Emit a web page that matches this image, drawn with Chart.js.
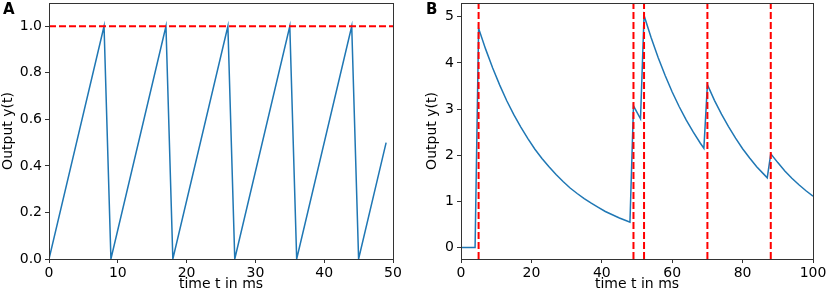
<!DOCTYPE html>
<html>
<head>
<meta charset="utf-8">
<script src="https://cdn.jsdelivr.net/npm/chart.js@4/dist/chart.umd.min.js"></script>
<style>
  html, body { margin: 0; padding: 0; background: #fff; }
  #wrap { position: relative; width: 829px; height: 296px; }
  .panel { position: absolute; top: 0; height: 296px; }
  #boxA { left: 0; width: 424px; }
  #boxB { left: 424px; width: 405px; }
  .tag { position: absolute; top: 0px; font: bold 15px "DejaVu Sans", sans-serif; color: #000; }
</style>
</head>
<body>
<div id="wrap">
  <div class="panel" id="boxA"><canvas id="chartA" width="424" height="296"></canvas></div>
  <div class="panel" id="boxB"><canvas id="chartB" width="405" height="296"></canvas></div>
  <div class="tag" style="left:3px">A</div>
  <div class="tag" style="left:426px">B</div>
</div>
<script>
// ================== Panel A data ==================
const timeA = [0, 8, 9, 17, 18, 26, 27, 35, 36, 44, 45, 49];
const outputA = [0, 1, 0, 1, 0, 1, 0, 1, 0, 1, 0, 0.5];
const thresholdA = 1.0;
const xTicksA = [0, 10, 20, 30, 40, 50];
const yTicksA = [0, 0.2, 0.4, 0.6, 0.8, 1.0];

// ================== Panel B data ==================
const timeB = [0, 4, 5, 7, 9, 11, 13, 15, 17, 19, 21, 23, 25, 27, 29, 31, 33, 35, 37, 39, 41, 43, 45, 47, 48,
  49, 50, 51, 52, 54, 56, 58, 60, 62, 64, 66, 68, 69,
  70, 72, 74, 76, 78, 80, 82, 84, 86, 87,
  88, 90, 92, 94, 96, 98, 100];
const outputB = [0, 0, 4.75, 4.30, 3.89, 3.52, 3.18, 2.88, 2.61, 2.36, 2.13, 1.93, 1.75, 1.58, 1.43, 1.29, 1.17, 1.06, 0.96, 0.87, 0.78, 0.71, 0.64, 0.58, 0.55,
  3.07, 2.93, 2.79, 5.03, 4.55, 4.12, 3.73, 3.37, 3.05, 2.76, 2.50, 2.26, 2.15,
  3.53, 3.19, 2.89, 2.62, 2.37, 2.14, 1.94, 1.75, 1.59, 1.51,
  2.03, 1.84, 1.66, 1.50, 1.36, 1.23, 1.11];
const spikesB = [5, 49, 52, 70, 88];
const xTicksB = [0, 20, 40, 60, 80, 100];
const yTicksB = [0, 1, 2, 3, 4, 5];

const BLUE = "#1f77b4";
const RED = "#ff0000";
const FONT = { family: "'DejaVu Sans', sans-serif", size: 14 };

// frame all four sides like matplotlib spines
const framePlugin = {
  id: "frame",
  afterDraw(chart) {
    const { ctx, chartArea: a } = chart;
    ctx.save();
    ctx.strokeStyle = "#333";
    ctx.lineWidth = 1;
    ctx.strokeRect(Math.round(a.left) + 0.5, Math.round(a.top) + 0.5,
      Math.round(a.right - a.left), Math.round(a.bottom - a.top));
    ctx.restore();
  },
};

function makeScales(xr, yr, xTicks, yTicks, yWidth, yFmt) {
  const tickSet = (vals) => (scale) => { scale.ticks = vals.map((v) => ({ value: v })); };
  return {
    x: {
      type: "linear", min: xr[0], max: xr[1],
      afterBuildTicks: tickSet(xTicks),
      afterFit: (s) => { s.height = 37; s.paddingLeft = 0; s.paddingRight = 0; },
      grid: { display: true, drawOnChartArea: false, drawTicks: true, tickLength: 4, tickColor: "#333" },
      border: { display: false },
      ticks: { color: "#000", font: FONT, padding: 2, maxRotation: 0 },
      title: { display: true, text: "time t in ms", color: "#000", font: FONT, padding: { top: 0, bottom: 3 } },
    },
    y: {
      type: "linear", min: yr[0], max: yr[1],
      afterBuildTicks: tickSet(yTicks),
      afterFit: (s) => { s.width = yWidth; s.paddingTop = 0; s.paddingBottom = 0; },
      grid: { display: true, drawOnChartArea: false, drawTicks: true, tickLength: 4, tickColor: "#333" },
      border: { display: false },
      ticks: { color: "#000", font: FONT, padding: 3, callback: yFmt },
      title: { display: true, text: "Output y(t)", color: "#000", font: FONT, padding: { top: 0, bottom: 0 } },
    },
  };
}

// ================== Chart A ==================
new Chart(document.getElementById("chartA"), {
  type: "line",
  data: {
    datasets: [
      {
        data: [{ x: 0, y: thresholdA }, { x: 50, y: thresholdA }],
        borderColor: RED, borderWidth: 2, borderDash: [7, 3], pointRadius: 0, order: 0,
      },
      {
        data: timeA.map((t, i) => ({ x: t, y: outputA[i] })),
        borderColor: BLUE, borderWidth: 1.5, pointRadius: 0, tension: 0, order: 1,
      },
    ],
  },
  options: {
    responsive: false, animation: false,
    layout: { padding: { top: 3, right: 31, bottom: 0, left: 0 } },
    plugins: { legend: { display: false }, tooltip: { enabled: false } },
    scales: makeScales([0, 50], [0, 1.1], xTicksA, yTicksA, 49, (v) => Number(v).toFixed(1)),
  },
  plugins: [framePlugin],
});

// ================== Chart B ==================
const spikeSets = spikesB.map((t) => ({
  data: [{ x: t, y: -0.25 }, { x: t, y: 5.3 }],
  borderColor: RED, borderWidth: 2, borderDash: [7, 3], pointRadius: 0, order: 0,
}));

new Chart(document.getElementById("chartB"), {
  type: "line",
  data: {
    datasets: [
      ...spikeSets,
      {
        data: timeB.map((t, i) => ({ x: t, y: outputB[i] })),
        borderColor: BLUE, borderWidth: 1.5, pointRadius: 0, tension: 0, order: 1,
      },
    ],
  },
  options: {
    responsive: false, animation: false,
    layout: { padding: { top: 3, right: 16, bottom: 0, left: 0 } },
    plugins: { legend: { display: false }, tooltip: { enabled: false } },
    scales: makeScales([0, 100], [-0.25, 5.3], xTicksB, yTicksB, 37, (v) => String(v)),
  },
  plugins: [framePlugin],
});
</script>
</body>
</html>
